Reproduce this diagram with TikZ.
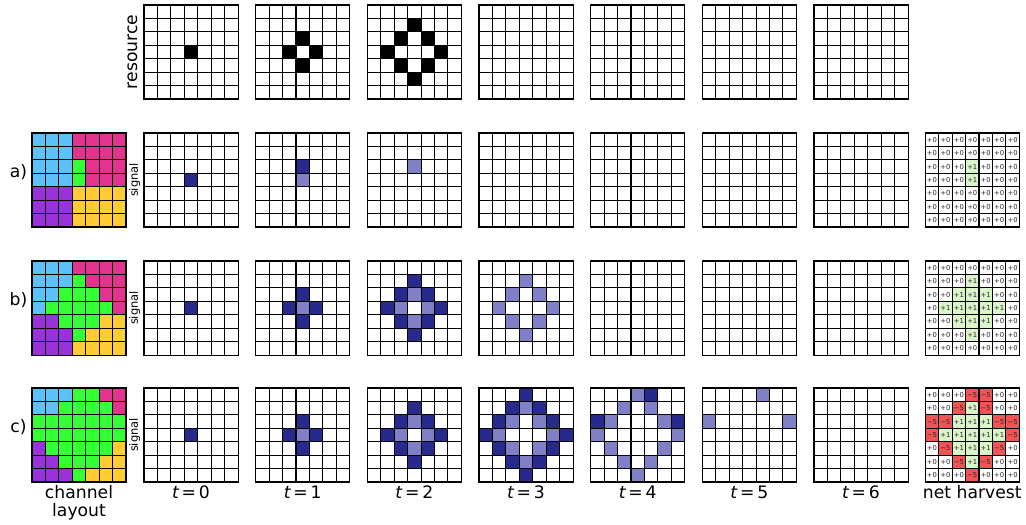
\documentclass[tikz,border=0pt]{standalone}
\usepackage{fontspec}
\setmainfont{DejaVu Sans}
\definecolor{chanC}{RGB}{92,193,248}
\definecolor{chanM}{RGB}{226,52,143}
\definecolor{chanG}{RGB}{52,255,52}
\definecolor{chanP}{RGB}{154,50,220}
\definecolor{chanY}{RGB}{255,204,51}
\definecolor{sigdark}{RGB}{39,42,140}
\definecolor{siglight}{RGB}{128,128,198}
\definecolor{harvgreen}{RGB}{218,246,200}
\definecolor{harvred}{RGB}{240,84,84}
\begin{document}
\begin{tikzpicture}[x=10.075pt, y=10.075pt,
    cellgrid/.style={line width=0.8pt, line cap=rect},
    biglabel/.style={font=\fontsize{12.9}{15.5}\selectfont, inner sep=0pt},
    smalllabel/.style={font=\fontsize{8.6}{10}\selectfont, inner sep=0pt},
    harvtext/.style={font=\fontsize{5.1}{6}\selectfont, text=black!85, inner sep=0pt}]
    \useasboundingbox (0, 0) rectangle (76.38, -39.08);
    \fill[black]
        \foreach \t/\col/\row in {
            0/3/3,
            1/3/2, 1/2/3, 1/4/3, 1/3/4,
            2/3/1, 2/2/2, 2/4/2, 2/1/3, 2/5/3, 2/2/4, 2/4/4, 2/3/5
        } {
            (10.72+8.313*\t+\col, -0.372-\row) rectangle ++(1, -1)
        };
    \fill[sigdark]
        \foreach \y/\t/\col/\row in {
            9.901/0/3/3, 9.901/1/3/2,
            19.430/0/3/3,
            19.430/1/3/2, 19.430/1/2/3, 19.430/1/4/3, 19.430/1/3/4,
            19.430/2/3/1, 19.430/2/2/2, 19.430/2/4/2, 19.430/2/1/3,
            19.430/2/5/3, 19.430/2/2/4, 19.430/2/4/4, 19.430/2/3/5,
            28.884/0/3/3,
            28.884/1/3/2, 28.884/1/2/3, 28.884/1/4/3, 28.884/1/3/4,
            28.884/2/3/1, 28.884/2/2/2, 28.884/2/4/2, 28.884/2/1/3,
            28.884/2/5/3, 28.884/2/2/4, 28.884/2/4/4, 28.884/2/3/5,
            28.884/3/3/0, 28.884/3/2/1, 28.884/3/4/1, 28.884/3/1/2,
            28.884/3/5/2, 28.884/3/0/3, 28.884/3/6/3, 28.884/3/1/4,
            28.884/3/5/4, 28.884/3/2/5, 28.884/3/4/5, 28.884/3/3/6,
            28.884/4/4/0, 28.884/4/0/2, 28.884/4/6/2
        } {
            (10.72+8.313*\t+\col, -\y-\row) rectangle ++(1, -1)
        };
    \fill[siglight]
        \foreach \y/\t/\col/\row in {
            9.901/1/3/3, 9.901/2/3/2,
            19.430/1/3/3,
            19.430/2/3/2, 19.430/2/2/3, 19.430/2/4/3, 19.430/2/3/4,
            19.430/3/3/1, 19.430/3/2/2, 19.430/3/4/2, 19.430/3/1/3,
            19.430/3/5/3, 19.430/3/2/4, 19.430/3/4/4, 19.430/3/3/5,
            28.884/1/3/3,
            28.884/2/3/2, 28.884/2/2/3, 28.884/2/4/3, 28.884/2/3/4,
            28.884/3/3/1, 28.884/3/2/2, 28.884/3/4/2, 28.884/3/1/3,
            28.884/3/5/3, 28.884/3/2/4, 28.884/3/4/4, 28.884/3/3/5,
            28.884/4/3/0, 28.884/4/2/1, 28.884/4/4/1, 28.884/4/1/2,
            28.884/4/5/2, 28.884/4/0/3, 28.884/4/6/3, 28.884/4/1/4,
            28.884/4/5/4, 28.884/4/2/5, 28.884/4/4/5, 28.884/4/3/6,
            28.884/5/4/0, 28.884/5/0/2, 28.884/5/6/2
        } {
            (10.72+8.313*\t+\col, -\y-\row) rectangle ++(1, -1)
        };
    \foreach \layout [count=\row from 0] in {
        {C,C,C,M,M,M,M}, {C,C,C,M,M,M,M}, {C,C,C,G,M,M,M}, {C,C,C,G,M,M,M},
        {P,P,P,Y,Y,Y,Y}, {P,P,P,Y,Y,Y,Y}, {P,P,P,Y,Y,Y,Y}} {
        \foreach \k [count=\col from 0] in \layout {
            \fill[chan\k] (2.382+\col, -9.901-\row) rectangle ++(1, -1);
        }
    }
    \foreach \layout [count=\row from 0] in {
        {C,C,C,M,M,M,M}, {C,C,C,G,M,M,M}, {C,C,G,G,G,M,M}, {C,G,G,G,G,G,M},
        {P,P,G,G,G,Y,Y}, {P,P,P,G,Y,Y,Y}, {P,P,P,Y,Y,Y,Y}} {
        \foreach \k [count=\col from 0] in \layout {
            \fill[chan\k] (2.382+\col, -19.430-\row) rectangle ++(1, -1);
        }
    }
    \foreach \layout [count=\row from 0] in {
        {C,C,C,G,G,M,M}, {C,C,G,G,G,G,M}, {G,G,G,G,G,G,G}, {G,G,G,G,G,G,G},
        {P,G,G,G,G,G,Y}, {P,P,G,G,G,Y,Y}, {P,P,P,G,Y,Y,Y}} {
        \foreach \k [count=\col from 0] in \layout {
            \fill[chan\k] (2.382+\col, -28.884-\row) rectangle ++(1, -1);
        }
    }
    \fill[harvgreen]
        \foreach \y/\col/\row in {
            9.901/3/2, 9.901/3/3,
            19.430/3/1, 19.430/2/2, 19.430/3/2, 19.430/4/2, 19.430/1/3,
            19.430/2/3, 19.430/3/3, 19.430/4/3, 19.430/5/3, 19.430/2/4,
            19.430/3/4, 19.430/4/4, 19.430/3/5,
            28.884/3/1, 28.884/2/2, 28.884/3/2, 28.884/4/2, 28.884/1/3,
            28.884/2/3, 28.884/3/3, 28.884/4/3, 28.884/5/3, 28.884/2/4,
            28.884/3/4, 28.884/4/4, 28.884/3/5
        } {
            (68.88+\col, -\y-\row) rectangle ++(1, -1)
        };
    \fill[harvred]
        \foreach \col/\row in {
            3/0, 4/0, 2/1, 4/1, 0/2, 1/2, 5/2, 6/2,
            0/3, 6/3, 1/4, 5/4, 2/5, 4/5, 3/6
        } {
            (68.88+\col, -28.884-\row) rectangle ++(1, -1)
        };
    \foreach \gy in {0.372, 9.901, 19.430, 28.884} {
        \foreach \t in {0, ..., 6} {
            \draw[cellgrid]
                \foreach \i in {0, ..., 7} {
                    (10.72+8.313*\t+\i, -\gy) -- ++(0, -7)
                    (10.72+8.313*\t, -\gy-\i) -- ++(7, 0)
                };
        }
    }
    \foreach \gy in {9.901, 19.430, 28.884} {
        \foreach \gx in {2.382, 68.88} {
            \draw[cellgrid]
                \foreach \i in {0, ..., 7} {
                    (\gx+\i, -\gy) -- ++(0, -7)
                    (\gx, -\gy-\i) -- ++(7, 0)
                };
        }
    }
    \foreach \vals [count=\row from 0] in {
        {+0,+0,+0,+0,+0,+0,+0}, {+0,+0,+0,+0,+0,+0,+0},
        {+0,+0,+0,+1,+0,+0,+0}, {+0,+0,+0,+1,+0,+0,+0},
        {+0,+0,+0,+0,+0,+0,+0}, {+0,+0,+0,+0,+0,+0,+0},
        {+0,+0,+0,+0,+0,+0,+0}} {
        \foreach \v [count=\col from 0] in \vals {
            \node[harvtext] (ha-\row-\col) at (69.38+\col, -10.401-\row) {\v};
        }
    }
    \foreach \vals [count=\row from 0] in {
        {+0,+0,+0,+0,+0,+0,+0}, {+0,+0,+0,+1,+0,+0,+0},
        {+0,+0,+1,+1,+1,+0,+0}, {+0,+1,+1,+1,+1,+1,+0},
        {+0,+0,+1,+1,+1,+0,+0}, {+0,+0,+0,+1,+0,+0,+0},
        {+0,+0,+0,+0,+0,+0,+0}} {
        \foreach \v [count=\col from 0] in \vals {
            \node[harvtext] (hb-\row-\col) at (69.38+\col, -19.930-\row) {\v};
        }
    }
    \foreach \vals [count=\row from 0] in {
        {+0,+0,+0,−5,−5,+0,+0}, {+0,+0,−5,+1,−5,+0,+0},
        {−5,−5,+1,+1,+1,−5,−5}, {−5,+1,+1,+1,+1,+1,−5},
        {+0,−5,+1,+1,+1,−5,+0}, {+0,+0,−5,+1,−5,+0,+0},
        {+0,+0,+0,−5,+0,+0,+0}} {
        \foreach \v [count=\col from 0] in \vals {
            \node[harvtext] (hc-\row-\col) at (69.38+\col, -29.384-\row) {\v};
        }
    }
    \node[biglabel, rotate=90, anchor=base] (resource) at (10.20, -3.871) {resource};
    \foreach \y/\name in {9.901/a, 19.430/b, 28.884/c} {
        \node[biglabel, anchor=base] (lab-\name) at (1.377, -\y-3.314) {\name)};
        \node[smalllabel, rotate=90, anchor=base] (sig-\name) at (10.27, -\y-3.5) {signal};
    }
    \foreach \t in {0, ..., 6} {
        \node[biglabel, anchor=base] (time-\t) at (14.22+8.313*\t, -37.147) {{\itshape t}\,=\,\t};
    }
    \node[biglabel, anchor=base] (channel) at (5.882, -37.147) {channel};
    \node[biglabel, anchor=base] (layout) at (5.882, -38.413) {layout};
    \node[biglabel, anchor=base] (harvest) at (72.38, -37.147) {net harvest};
\end{tikzpicture}
\end{document}
